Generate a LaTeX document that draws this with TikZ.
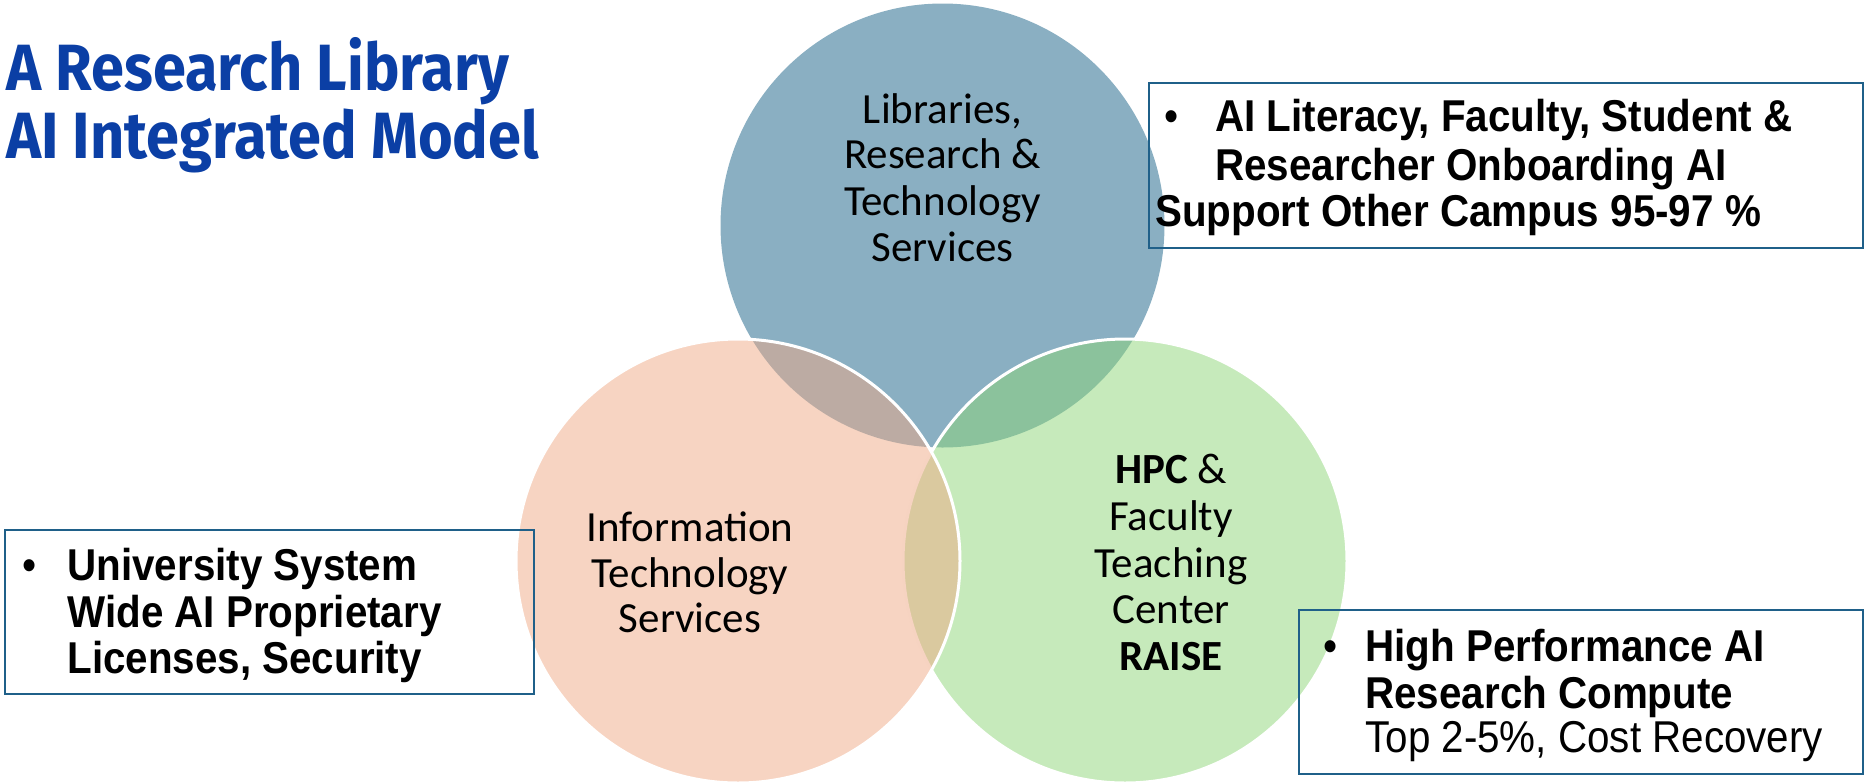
\documentclass[tikz,border=0pt]{standalone}
\usepackage{fontspec}
\setmainfont{Liberation Sans}
\newfontfamily\calfont{Carlito}
\newfontfamily\titlefont[FakeStretch=0.91]{Fira Sans}
\newfontfamily\arialfont[FakeStretch=0.905]{Liberation Sans}
\definecolor{bluec}{HTML}{8AAFC2}
\definecolor{greenc}{HTML}{8DD577}
\definecolor{orangec}{HTML}{EFA985}
\definecolor{titlec}{HTML}{0B3FA5}
\definecolor{framec}{HTML}{1F6089}
\begin{document}
\begin{tikzpicture}[x=0.5pt,y=-0.5pt,
  ctext/.style={anchor=base, inner sep=0, font=\calfont\fontsize{21.5}{23}\selectfont},
  bline/.style={anchor=base west, inner sep=0, font=\arialfont\bfseries\fontsize{22.3}{24}\selectfont},
  rline/.style={anchor=base west, inner sep=0, font=\arialfont\fontsize{22.3}{24}\selectfont},
  bul/.style={anchor=base, inner sep=0, font=\arialfont\fontsize{22.3}{24}\selectfont},
  tline/.style={anchor=base west, inner sep=0, text=titlec, font=\titlefont\bfseries\fontsize{32.7}{36}\selectfont},
  frame/.style={draw=framec, line width=1pt, inner sep=0, anchor=north west}
]
\useasboundingbox (0,0) rectangle (1864,783);
% circles
\fill[bluec] (942.5,225.5) circle[radius=111pt];
\path[fill=greenc, fill opacity=0.5, draw=white, line width=1.5pt] (1125,561) circle[radius=111pt];
\path[fill=orangec, fill opacity=0.5, draw=white, line width=1.5pt] (738,561) circle[radius=111pt];
\node[inner sep=0] (cb) at (942.5,225.5) {};
\node[inner sep=0] (cg) at (1125,561) {};
\node[inner sep=0] (co) at (738,561) {};
% title
\node[tline] (t1) at (6,90) {A Research Library};
\node[tline] (t2) at (6,158) {AI Integrated Model};
% blue circle text
\node[ctext] (b1) at (942.5,123.3) {Libraries,};
\node[ctext] (b2) at (942.5,168.3) {Research \&};
\node[ctext] (b3) at (942.5,215) {Technology};
\node[ctext] (b4) at (942.5,261.7) {Services};
% orange circle text
\node[ctext] (o1) at (690,541.5) {Information};
\node[ctext] (o2) at (690,587.5) {Technology};
\node[ctext] (o3) at (690,632) {Services};
% green circle text
\node[ctext] (g1) at (1171,483) {\textbf{HPC} \&};
\node[ctext] (g2) at (1171,530) {Faculty};
\node[ctext] (g3) at (1171,577) {Teaching};
\node[ctext] (g4) at (1171,623) {Center};
\node[ctext] (g5) at (1171,670) {\textbf{RAISE}};
% top-right box
\node[frame, minimum width=357pt, minimum height=82.5pt] (boxtr) at (1148,82) {};
\node[bul] (tb) at (1172,131.7) {•};
\node[bline] (tr1) at (1215,131.7) {AI Literacy, Faculty, Student \&};
\node[bline] (tr2) at (1215,180) {Researcher Onboarding AI};
\node[bline] (tr3) at (1155,226.7) {Support Other Campus 95-97 \%};
% bottom-left box
\node[frame, minimum width=264.5pt, minimum height=82pt] (boxbl) at (4,529) {};
\node[bul] (lb) at (30,580) {•};
\node[bline] (bl1) at (67,580) {University System};
\node[bline] (bl2) at (67,627) {Wide AI Proprietary};
\node[bline] (bl3) at (67,673) {Licenses, Security};
% bottom-right box
\node[frame, minimum width=282pt, minimum height=82pt] (boxbr) at (1298,609) {};
\node[bul] (rb) at (1331,661) {•};
\node[bline] (br1) at (1365,661) {High Performance AI};
\node[bline] (br2) at (1365,708.5) {Research Compute};
\node[rline] (br3) at (1365,752) {Top 2-5\%, Cost Recovery};
\end{tikzpicture}
\end{document}
